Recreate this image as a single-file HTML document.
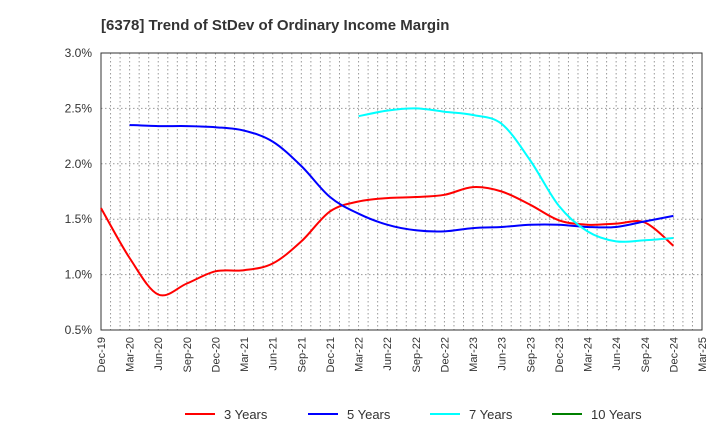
<!DOCTYPE html>
<html><head><meta charset="utf-8"><style>
body{margin:0;background:#fff;font-family:"Liberation Sans",Arial,sans-serif}
svg text{font-family:"Liberation Sans",Arial,sans-serif}
</style></head><body>
<svg id="c" width="720" height="440" xmlns="http://www.w3.org/2000/svg"></svg>
<script>
const xLabels=["Dec-19","Mar-20","Jun-20","Sep-20","Dec-20","Mar-21","Jun-21","Sep-21","Dec-21","Mar-22","Jun-22","Sep-22","Dec-22","Mar-23","Jun-23","Sep-23","Dec-23","Mar-24","Jun-24","Sep-24","Dec-24","Mar-25"];
const yTicks=[0.5,1.0,1.5,2.0,2.5,3.0];
const s3=[1.60,1.15,0.82,0.92,1.03,1.04,1.10,1.30,1.57,1.66,1.69,1.70,1.72,1.79,1.75,1.63,1.49,1.45,1.46,1.47,1.26];
const s5=[null,2.35,2.34,2.34,2.33,2.30,2.20,1.98,1.70,1.55,1.45,1.40,1.39,1.42,1.43,1.45,1.45,1.43,1.43,1.48,1.53];
const s7=[null,null,null,null,null,null,null,null,null,2.43,2.48,2.50,2.47,2.44,2.36,2.03,1.62,1.39,1.30,1.31,1.33];
const s10=[];
const L=101,R=702,T=53,B=330;
const x=i=>L+(R-L)*i/(xLabels.length-1);
const y=v=>B-(v-0.5)/2.5*(B-T);
const svg=document.getElementById('c');const NS="http://www.w3.org/2000/svg";
function mk(t,a,p){const e=document.createElementNS(NS,t);for(const k in a)e.setAttribute(k,a[k]);(p||svg).appendChild(e);return e;}
let t=mk('text',{x:101,y:30,'font-size':15,'font-weight':'bold',fill:'#333'});t.textContent="[6378]  Trend of StDev of Ordinary Income Margin";


for(let m=1;m<63;m++){const xx=L+(R-L)*m/63;let g=mk('line',{x1:xx,x2:xx,y1:T,y2:B,stroke:'#999','stroke-dasharray':'1.5,2.5','stroke-width':1});

}
yTicks.forEach(v=>{let g=mk('line',{x1:L,x2:R,y1:y(v),y2:y(v),stroke:'#999','stroke-dasharray':'1.5,2.5'});


let tx=mk('text',{x:92,y:y(v)+4,'text-anchor':'end','font-size':12,fill:'#333'});tx.textContent=v.toFixed(1)+'%';

});
let fr=mk('rect',{x:L,y:T,width:R-L,height:B-T,fill:'none',stroke:'#333','stroke-width':1});


xLabels.forEach((l,i)=>{let tx=mk('text',{x:0,y:0,'text-anchor':'end','font-size':11,fill:'#333',transform:`translate(${x(i)+4},${B+7}) rotate(-90)`});tx.textContent=l;

});
function line(d,c,n){let p=[];d.forEach((v,i)=>{if(v!=null)p.push([x(i),y(v)]);});
if(p.length<2)return;
let s='M'+p[0][0].toFixed(1)+','+p[0][1].toFixed(1);
for(let i=0;i<p.length-1;i++){const p0=p[Math.max(0,i-1)],p1=p[i],p2=p[i+1],p3=p[Math.min(p.length-1,i+2)];
const k=1/6;
s+=' C'+(p1[0]+(p2[0]-p0[0])*k).toFixed(1)+','+(p1[1]+(p2[1]-p0[1])*k).toFixed(1)+' '+(p2[0]-(p3[0]-p1[0])*k).toFixed(1)+','+(p2[1]-(p3[1]-p1[1])*k).toFixed(1)+' '+p2[0].toFixed(1)+','+p2[1].toFixed(1);}
let el=mk('path',{d:s,fill:'none',stroke:c,'stroke-width':2,'stroke-linejoin':'round'});

}
line(s3,'#ff0000','series-3-years');line(s5,'#0000ff','series-5-years');line(s7,'#00ffff','series-7-years');line(s10,'#008000','series-10-years');
[['3 Years','#ff0000',185],['5 Years','#0000ff',308],['7 Years','#00ffff',430],['10 Years','#008000',552]].forEach(([n,c,lx])=>{
let g=mk('g',{});


mk('line',{x1:lx,x2:lx+30,y1:414,y2:414,stroke:c,'stroke-width':2},g);
let tx=mk('text',{x:lx+39,y:419,'font-size':13,fill:'#333'},g);tx.textContent=n;});
</script>
</body></html>
